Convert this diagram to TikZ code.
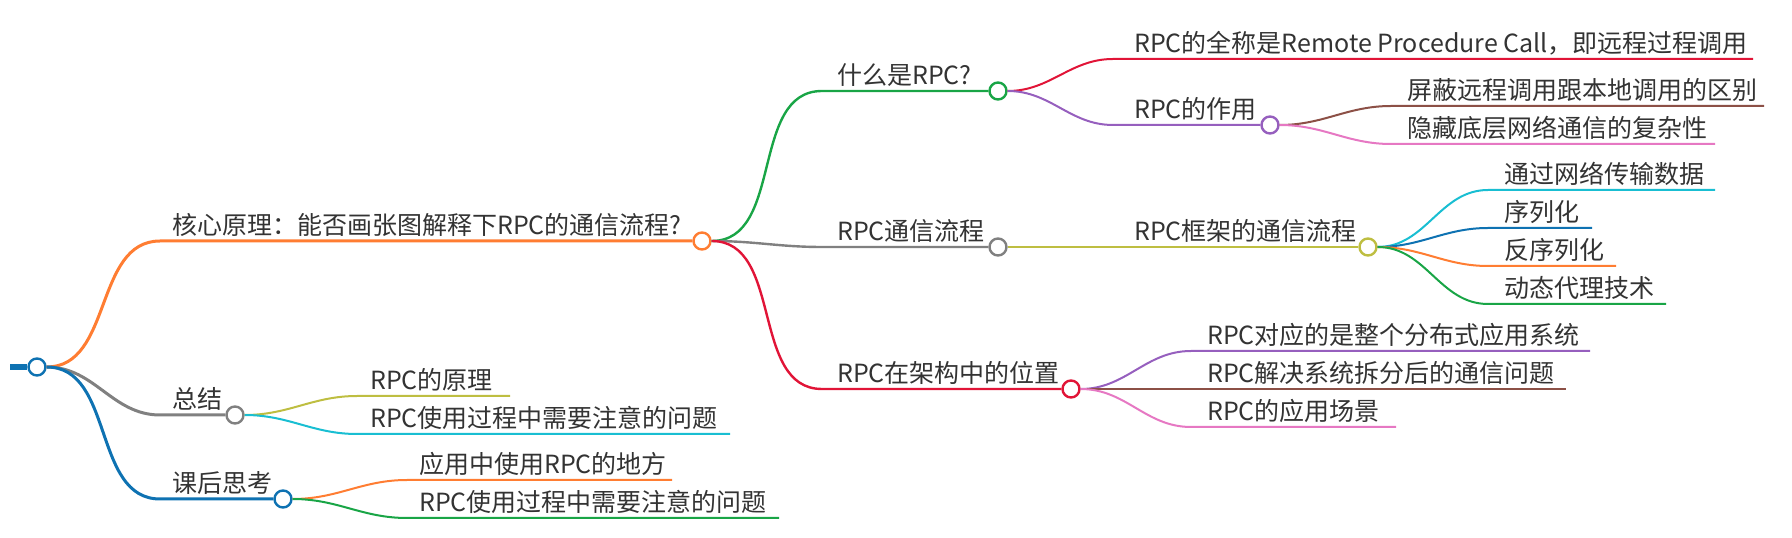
\documentclass[tikz,border=0pt]{standalone}
\usepackage{fontspec}
\newfontfamily\cjk{Noto Sans CJK SC}
\usepackage{tikz}
\usetikzlibrary{calc, positioning}
\definecolor{txtgray}{RGB}{51, 51, 51}
\definecolor{cblue}{RGB}{14, 114, 178}
\definecolor{corange}{RGB}{255, 125, 50}
\definecolor{cgray}{RGB}{128, 128, 128}
\definecolor{cgreen}{RGB}{25, 165, 70}
\definecolor{cred}{RGB}{225, 20, 55}
\definecolor{cpurple}{RGB}{150, 95, 190}
\definecolor{cbrown}{RGB}{140, 80, 70}
\definecolor{cpink}{RGB}{230, 120, 195}
\definecolor{colive}{RGB}{190, 190, 65}
\definecolor{ccyan}{RGB}{25, 190, 210}
\tikzset{
    circlenode/.style = {circle, draw, fill=white, minimum size=17pt, inner sep=0pt, line width=2.4pt},
    textnode/.style = {draw=none, fill=none, anchor=base west, inner sep=0pt, text=txtgray,
      font=\cjk\fontsize{25}{29}\selectfont},
    stub/.style = {line width=6pt},
    linkone/.style = {line width=3pt},
    linktwo/.style = {line width=2.4pt},
    linkleaf/.style = {line width=2pt},
    mmbend/.style = {out=0, in=180}
}

\begin{document}
\begin{tikzpicture}[x=1pt, y=1pt]
    \useasboundingbox (0,0) rectangle (1792,538);

    % root
    \node [name=root, circlenode, draw=cblue] at (37,171) {};
    \coordinate (root-stub) at (10,171);
    \draw [stub, cblue] (root-stub) -- (root.west);

    % level 1
    \node [name=core, circlenode, draw=corange] at (702,297) {};
    \node [name=summ, circlenode, draw=cgray] at (235,123) {};
    \node [name=post, circlenode, draw=cblue] at (283,39) {};
    \coordinate (core-in) at (160,297);
    \coordinate (summ-in) at (160,123);
    \coordinate (post-in) at (160,39);
    \node [name=core-txt, textnode] at (172,303) {核心原理：能否画张图解释下RPC的通信流程?};
    \node [name=summ-txt, textnode] at (172,129) {总结};
    \node [name=post-txt, textnode] at (172,45) {课后思考};
    \draw [linkone, corange] (root.east) to[mmbend] (core-in) -- (core.west);
    \draw [linkone, cgray] (root.east) to[mmbend] (summ-in) -- (summ.west);
    \draw [linkone, cblue] (root.east) to[mmbend] (post-in) -- (post.west);

    % core: what / flow / arch
    \node [name=what, circlenode, draw=cgreen] at (998,447) {};
    \node [name=flow, circlenode, draw=cgray] at (998,291) {};
    \node [name=arch, circlenode, draw=cred] at (1071,149) {};
    \coordinate (what-in) at (822,447);
    \coordinate (flow-in) at (822,291);
    \coordinate (arch-in) at (822,149);
    \node [name=what-txt, textnode] at (837,453) {什么是RPC?};
    \node [name=flow-txt, textnode] at (837,297) {RPC通信流程};
    \node [name=arch-txt, textnode] at (837,155) {RPC在架构中的位置};
    \draw [linktwo, cgreen] (core.east) to[mmbend] (what-in) -- (what.west);
    \draw [linktwo, cgray] (core.east) to[mmbend] (flow-in) -- (flow.west);
    \draw [linktwo, cred] (core.east) to[mmbend] (arch-in) -- (arch.west);

    % what: fullname / role
    \node [name=role, circlenode, draw=cpurple] at (1270,413) {};
    \coordinate (full-in) at (1113,479);
    \coordinate (full-end) at (1753,479);
    \coordinate (role-in) at (1113,413);
    \node [name=full-txt, textnode] at (1134,485) {RPC的全称是Remote Procedure Call，即远程过程调用};
    \node [name=role-txt, textnode] at (1134,419) {RPC的作用};
    \draw [linkleaf, cred] (what.east) to[mmbend] (full-in) -- (full-end);
    \draw [linkleaf, cpurple] (what.east) to[mmbend] (role-in) -- (role.west);

    % role: shield / hide
    \coordinate (shield-in) at (1391,432);
    \coordinate (shield-end) at (1764,432);
    \coordinate (hide-in) at (1391,394);
    \coordinate (hide-end) at (1715,394);
    \node [name=shield-txt, textnode] at (1407,438) {屏蔽远程调用跟本地调用的区别};
    \node [name=hide-txt, textnode] at (1407,400) {隐藏底层网络通信的复杂性};
    \draw [linkleaf, cbrown] (role.east) to[mmbend] (shield-in) -- (shield-end);
    \draw [linkleaf, cpink] (role.east) to[mmbend] (hide-in) -- (hide-end);

    % flow: frame
    \node [name=frame, circlenode, draw=colive] at (1368,291) {};
    \coordinate (frame-in) at (1113,291);
    \node [name=frame-txt, textnode] at (1134,297) {RPC框架的通信流程};
    \draw [linkleaf, colive] (flow.east) to[mmbend] (frame-in) -- (frame.west);

    % frame: net / ser / deser / proxy
    \coordinate (net-in) at (1488,348);
    \coordinate (net-end) at (1715,348);
    \coordinate (ser-in) at (1488,310);
    \coordinate (ser-end) at (1592,310);
    \coordinate (deser-in) at (1488,272);
    \coordinate (deser-end) at (1616,272);
    \coordinate (proxy-in) at (1488,234);
    \coordinate (proxy-end) at (1666,234);
    \node [name=net-txt, textnode] at (1504,354) {通过网络传输数据};
    \node [name=ser-txt, textnode] at (1504,316) {序列化};
    \node [name=deser-txt, textnode] at (1504,278) {反序列化};
    \node [name=proxy-txt, textnode] at (1504,240) {动态代理技术};
    \draw [linkleaf, ccyan] (frame.east) to[mmbend] (net-in) -- (net-end);
    \draw [linkleaf, cblue] (frame.east) to[mmbend] (ser-in) -- (ser-end);
    \draw [linkleaf, corange] (frame.east) to[mmbend] (deser-in) -- (deser-end);
    \draw [linkleaf, cgreen] (frame.east) to[mmbend] (proxy-in) -- (proxy-end);

    % arch: dist / split / scene
    \coordinate (dist-in) at (1191,187);
    \coordinate (dist-end) at (1590,187);
    \coordinate (split-in) at (1191,149);
    \coordinate (split-end) at (1566,149);
    \coordinate (scene-in) at (1191,111);
    \coordinate (scene-end) at (1396,111);
    \node [name=dist-txt, textnode] at (1207,193) {RPC对应的是整个分布式应用系统};
    \node [name=split-txt, textnode] at (1207,155) {RPC解决系统拆分后的通信问题};
    \node [name=scene-txt, textnode] at (1207,117) {RPC的应用场景};
    \draw [linkleaf, cpurple] (arch.east) to[mmbend] (dist-in) -- (dist-end);
    \draw [linkleaf, cbrown] (arch.east) to[mmbend] (split-in) -- (split-end);
    \draw [linkleaf, cpink] (arch.east) to[mmbend] (scene-in) -- (scene-end);

    % summ: princ / caution
    \coordinate (princ-in) at (357,142);
    \coordinate (princ-end) at (510,142);
    \coordinate (caut-in) at (357,104);
    \coordinate (caut-end) at (730,104);
    \node [name=princ-txt, textnode] at (370,148) {RPC的原理};
    \node [name=caut-txt, textnode] at (370,110) {RPC使用过程中需要注意的问题};
    \draw [linkleaf, colive] (summ.east) to[mmbend] (princ-in) -- (princ-end);
    \draw [linkleaf, ccyan] (summ.east) to[mmbend] (caut-in) -- (caut-end);

    % post: where / caution
    \coordinate (where-in) at (407,58);
    \coordinate (where-end) at (672,58);
    \coordinate (cautb-in) at (407,20);
    \coordinate (cautb-end) at (779,20);
    \node [name=where-txt, textnode] at (419,64) {应用中使用RPC的地方};
    \node [name=cautb-txt, textnode] at (419,26) {RPC使用过程中需要注意的问题};
    \draw [linkleaf, corange] (post.east) to[mmbend] (where-in) -- (where-end);
    \draw [linkleaf, cgreen] (post.east) to[mmbend] (cautb-in) -- (cautb-end);
\end{tikzpicture}
\end{document}
